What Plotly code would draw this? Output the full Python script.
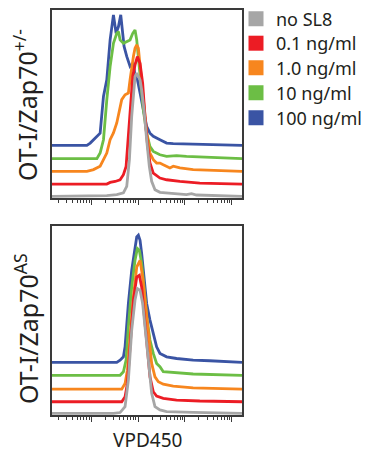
import plotly.graph_objects as go

# ---------------- data (log10 VPD450 intensity, relative cell counts) ----------------
series_names = ["no SL8", "0.1 ng/ml", "1.0 ng/ml", "10 ng/ml", "100 ng/ml"]
series_colors = ["#a6a6a6", "#ec1c24", "#f7861e", "#6cbe45", "#3a54a4"]

# top panel: OT-I/Zap70+/-
top_gray_logx = [1.163, 2.191, 2.333, 2.546, 2.688, 2.759, 2.816, 2.865, 2.901, 2.936, 2.972, 3.007, 3.043, 3.078, 3.128, 3.184, 3.241, 3.291, 3.362, 3.468, 3.752, 4.035, 4.142, 4.248, 5.220]
top_gray_y = [0, 0, 0.4, 0.9, 1.8, 5.3, 19.5, 42.5, 54.9, 63.7, 65.5, 63.7, 61.9, 56.6, 46.0, 30.1, 15.9, 8.0, 3.5, 2.1, 1.4, 0.9, 1.4, 0.7, 0]

top_red_logx = [1.163, 2.333, 2.404, 2.511, 2.617, 2.688, 2.745, 2.794, 2.844, 2.887, 2.936, 2.986, 3.043, 3.099, 3.149, 3.199, 3.255, 3.326, 3.468, 3.610, 3.894, 4.319, 5.220]
top_red_y = [0, 0, 0.9, 1.4, 2.3, 5.0, 9.4, 27.1, 44.8, 57.2, 63.4, 67.8, 64.2, 53.6, 35.9, 21.8, 11.2, 5.8, 3.2, 2.3, 1.4, 0.5, 0]

top_orange_logx = [1.163, 1.908, 2.050, 2.191, 2.262, 2.333, 2.404, 2.475, 2.546, 2.652, 2.723, 2.794, 2.830, 2.865, 2.901, 2.936, 2.972, 3.007, 3.043, 3.113, 3.184, 3.255, 3.326, 3.397, 3.468, 3.539, 3.681, 3.752, 3.894, 4.177, 5.220]
top_orange_y = [0, 0, 0.9, 2.7, 6.2, 9.7, 16.8, 20.4, 25.7, 38.1, 40.7, 41.6, 48.7, 55.8, 61.1, 65.5, 67.3, 65.5, 55.8, 38.1, 20.4, 9.7, 6.2, 4.4, 4.4, 3.5, 1.8, 2.7, 1.8, 0.9, 0]

top_green_logx = [1.163, 2.121, 2.191, 2.262, 2.333, 2.404, 2.475, 2.546, 2.582, 2.617, 2.688, 2.759, 2.830, 2.887, 2.936, 2.972, 3.043, 3.113, 3.184, 3.255, 3.326, 3.468, 3.610, 3.823, 4.035, 4.319, 5.220]
top_green_y = [0, 0, 3.0, 10.1, 31.3, 49.0, 61.4, 66.7, 67.6, 63.2, 61.4, 62.3, 63.2, 66.7, 68.5, 63.2, 45.5, 26.0, 13.6, 6.5, 3.9, 2.1, 1.2, 1.6, 1.2, 0.9, 0]

top_blue_logx = [1.163, 1.908, 1.979, 2.121, 2.191, 2.262, 2.333, 2.404, 2.461, 2.475, 2.532, 2.582, 2.631, 2.702, 2.759, 2.830, 2.901, 2.936, 2.986, 3.043, 3.113, 3.184, 3.255, 3.326, 3.468, 3.610, 3.752, 4.319, 5.220]
top_blue_y = [0, 0, 1.2, 4.8, 6.5, 26.0, 34.9, 56.1, 66.7, 69.4, 59.6, 63.2, 69.4, 52.6, 47.3, 42.0, 43.8, 36.8, 35.0, 27.9, 19.1, 10.1, 6.5, 4.8, 3.0, 1.2, 0.9, 0.7, 0]

# bottom panel: OT-I/Zap70AS
bot_gray_logx = [1.163, 2.475, 2.617, 2.723, 2.794, 2.865, 2.936, 2.986, 3.043, 3.099, 3.149, 3.220, 3.291, 3.362, 3.468, 3.610, 3.965, 4.177, 5.220]
bot_gray_y = [0, 0, 0.4, 3.5, 17.6, 44.0, 59.9, 66.0, 65.1, 58.1, 45.8, 26.4, 10.6, 3.5, 1.8, 0.9, 0.4, 0.5, 0]

bot_red_logx = [1.163, 2.652, 2.723, 2.773, 2.830, 2.901, 2.972, 3.028, 3.078, 3.128, 3.184, 3.255, 3.326, 3.397, 3.539, 3.823, 4.319, 5.220]
bot_red_y = [0, 0, 2.6, 9.7, 29.0, 53.7, 66.0, 66.9, 60.7, 46.7, 29.0, 13.2, 5.3, 3.0, 1.8, 0.9, 0.4, 0]

bot_orange_logx = [1.163, 2.652, 2.723, 2.773, 2.830, 2.901, 2.972, 3.043, 3.099, 3.149, 3.220, 3.291, 3.362, 3.433, 3.539, 3.752, 4.177, 5.220]
bot_orange_y = [0, 0, 3.0, 10.0, 27.6, 48.8, 64.6, 68.1, 59.3, 47.0, 27.6, 13.6, 6.5, 3.9, 2.6, 1.6, 0.7, 0]

bot_green_logx = [1.163, 2.617, 2.688, 2.745, 2.794, 2.865, 2.936, 2.986, 3.028, 3.078, 3.128, 3.184, 3.255, 3.326, 3.397, 3.468, 3.539, 3.752, 4.177, 5.220]
bot_green_y = [0, 0, 1.9, 8.1, 25.7, 46.8, 60.9, 67.1, 66.2, 59.2, 46.8, 31.0, 18.7, 11.6, 6.3, 4.6, 1.9, 1.4, 0.7, 0]

bot_blue_logx = [1.163, 2.546, 2.617, 2.688, 2.723, 2.794, 2.865, 2.936, 2.972, 3.007, 3.043, 3.078, 3.113, 3.184, 3.255, 3.326, 3.397, 3.468, 3.610, 3.823, 4.177, 4.532, 5.220]
bot_blue_y = [0, 0, 1.2, 3.0, 8.3, 31.2, 48.8, 61.1, 66.4, 67.3, 64.6, 57.6, 48.8, 31.2, 22.4, 15.3, 8.3, 4.8, 3.0, 2.1, 1.2, 0.9, 0]

# vertical stacking offsets of each histogram (gray, red, orange, green, blue)
top_offsets = [0.9, 7.4, 14.2, 20.9, 28.0]
bot_offsets = [0.9, 7.0, 13.7, 21.0, 27.8]

top_series = [(top_gray_logx, top_gray_y), (top_red_logx, top_red_y), (top_orange_logx, top_orange_y),
              (top_green_logx, top_green_y), (top_blue_logx, top_blue_y)]
bot_series = [(bot_gray_logx, bot_gray_y), (bot_red_logx, bot_red_y), (bot_orange_logx, bot_orange_y),
              (bot_green_logx, bot_green_y), (bot_blue_logx, bot_blue_y)]

# ---------------- figure ----------------
W, H = 363, 447   # page has an 8px body margin
PAD = 8


def px(x):
    return (x - PAD) / W


def py(y):
    return 1 - (y - PAD) / H


fig = go.Figure()

draw_order = [4, 3, 2, 1, 0]  # blue at back, gray on top
for panel, (series, offsets) in enumerate([(top_series, top_offsets), (bot_series, bot_offsets)]):
    xa = "x" if panel == 0 else "x2"
    ya = "y" if panel == 0 else "y2"
    for i in draw_order:
        lx, ly = series[i]
        fig.add_trace(go.Scatter(
            x=[10 ** v for v in lx], y=[v + offsets[i] for v in ly],
            mode="lines", line=dict(color=series_colors[i], width=2.8),
            xaxis=xa, yaxis=ya, showlegend=False, hoverinfo="skip"))

# legend entries (square swatches), one legend box per entry for exact row spacing
legend_keys = ["legend", "legend2", "legend3", "legend4", "legend5"]
legend_rows = [19, 43.5, 68, 93, 118]
for i, name in enumerate(series_names):
    fig.add_trace(go.Scatter(
        x=[None], y=[None], mode="markers", name=name, legend=legend_keys[i],
        marker=dict(symbol="square", size=15, color=series_colors[i]),
        showlegend=True))

xdom = [px(52), px(242)]
minor_vals = [m * 10 ** d for d in range(1, 6) for m in range(2, 10)]
xcommon = dict(type="log", range=[1.163, 5.22], domain=xdom, showgrid=False, zeroline=False,
               showline=True, linecolor="#3a3a3a", linewidth=1.5, mirror=True,
               ticks="outside", ticklen=5, tickwidth=1, tickcolor="#3a3a3a",
               tickvals=[10, 100, 1000, 10000, 100000], showticklabels=False,
               minor=dict(ticks="outside", ticklen=3, tickwidth=1, tickcolor="#3a3a3a",
                          tickvals=minor_vals))
ycommon = dict(range=[0, 100], showgrid=False, zeroline=False, showline=True,
               linecolor="#3a3a3a", linewidth=1.5, mirror=True, ticks="", showticklabels=False)

layout_legends = {}
for key, row in zip(legend_keys, legend_rows):
    layout_legends[key] = dict(x=px(236), y=py(row), xanchor="left", yanchor="middle",
                               font=dict(size=18, family="Noto Sans", color="#231f20"),
                               bgcolor="rgba(0,0,0,0)", itemwidth=30, borderwidth=0)

fig.update_layout(
    width=W, height=H,
    margin=dict(l=0, r=0, t=0, b=0, autoexpand=False),
    paper_bgcolor="white", plot_bgcolor="white",
    font=dict(family="Noto Sans", color="#231f20"),
    xaxis=dict(**xcommon, anchor="y"),
    yaxis=dict(**ycommon, domain=[py(198), py(10)], anchor="x"),
    xaxis2=dict(**xcommon, anchor="y2"),
    yaxis2=dict(**ycommon, domain=[py(415), py(226)], anchor="x2"),
    **layout_legends,
    annotations=[
        dict(text="OT-I/Zap70<sup>+/-</sup>", x=px(26), y=py(105), xref="paper", yref="paper",
             textangle=-90, showarrow=False, font=dict(size=25, family="Noto Sans", color="#231f20"),
             xanchor="center", yanchor="middle"),
        dict(text="OT-I/Zap70<sup>AS</sup>", x=px(26), y=py(329), xref="paper", yref="paper",
             textangle=-90, showarrow=False, font=dict(size=25, family="Noto Sans", color="#231f20"),
             xanchor="center", yanchor="middle"),
        dict(text="VPD450", x=px(147), y=py(440), xref="paper", yref="paper",
             showarrow=False, font=dict(size=19, family="Noto Sans", color="#231f20"),
             xanchor="center", yanchor="middle"),
    ],
)

fig.write_html("out.html")
